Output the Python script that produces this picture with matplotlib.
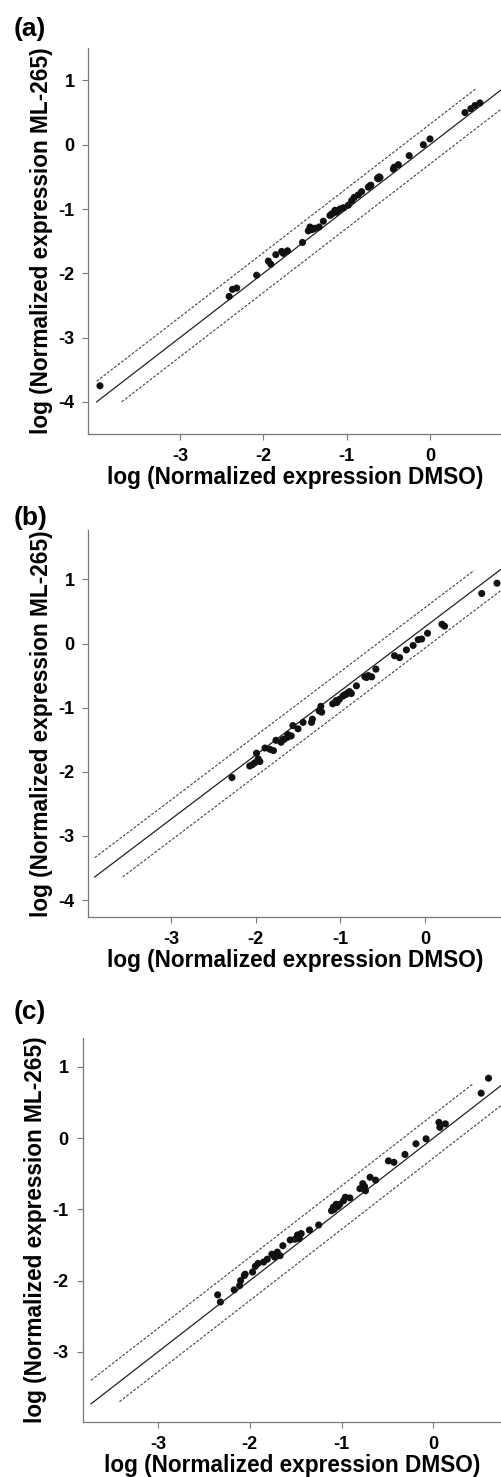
import numpy as np
import matplotlib.pyplot as plt

plt.rcParams['font.family'] = ['Liberation Sans', 'DejaVu Sans']
plt.rcParams['font.weight'] = 'bold'

# ---------------------------------------------------------
# data: log normalized expression, DMSO (x) vs ML-265 (y)
# ---------------------------------------------------------
a_x = [-3.96, -2.41, -2.37, -2.32, -2.08, -1.94, -1.91, -1.85, -1.78, -1.76,
       -1.71, -1.53, -1.46, -1.44, -1.42, -1.40, -1.38, -1.33, -1.28, -1.20,
       -1.18, -1.16, -1.14, -1.12, -1.10, -1.08, -1.04, -0.98, -0.94, -0.91,
       -0.86, -0.82, -0.74, -0.72, -0.71, -0.63, -0.62, -0.61, -0.60, -0.44,
       -0.43, -0.38, -0.25, -0.08, 0.00, 0.42, 0.49, 0.54, 0.60]
a_y = [-3.75, -2.36, -2.25, -2.23, -2.03, -1.81, -1.86, -1.71, -1.66, -1.69,
       -1.65, -1.52, -1.34, -1.28, -1.32, -1.31, -1.30, -1.28, -1.19, -1.10,
       -1.08, -1.06, -1.02, -1.05, -1.02, -1.00, -0.98, -0.94, -0.87, -0.82,
       -0.78, -0.73, -0.66, -0.64, -0.63, -0.52, -0.53, -0.50, -0.51, -0.38,
       -0.35, -0.31, -0.17, 0.00, 0.09, 0.50, 0.56, 0.61, 0.65]

b_x = [-2.28, -2.07, -2.04, -2.01, -1.99, -1.97, -1.95, -1.89, -1.83, -1.79,
       -1.76, -1.70, -1.68, -1.66, -1.62, -1.62, -1.58, -1.56, -1.50, -1.44,
       -1.34, -1.33, -1.25, -1.23, -1.22, -1.09, -1.05, -1.04, -1.01, -0.97,
       -0.95, -0.93, -0.91, -0.89, -0.87, -0.81, -0.71, -0.69, -0.67, -0.63,
       -0.58, -0.36, -0.30, -0.22, -0.14, -0.08, -0.04, 0.03, 0.20, 0.23,
       0.67, 0.85]
b_y = [-2.09, -1.91, -1.89, -1.86, -1.71, -1.80, -1.84, -1.63, -1.65, -1.67,
       -1.51, -1.54, -1.50, -1.49, -1.46, -1.42, -1.44, -1.28, -1.33, -1.23,
       -1.23, -1.18, -1.05, -0.98, -1.07, -0.94, -0.89, -0.92, -0.87, -0.82,
       -0.80, -0.79, -0.77, -0.75, -0.78, -0.66, -0.52, -0.53, -0.50, -0.52,
       -0.40, -0.19, -0.22, -0.10, -0.03, 0.06, 0.07, 0.16, 0.30, 0.27,
       0.78, 0.94]

c_x = [-2.35, -2.32, -2.17, -2.11, -2.10, -2.06, -2.05, -1.97, -1.94, -1.91,
       -1.85, -1.81, -1.76, -1.73, -1.70, -1.67, -1.64, -1.56, -1.51, -1.48,
       -1.46, -1.44, -1.35, -1.25, -1.11, -1.09, -1.08, -1.06, -1.04, -1.02,
       -0.98, -0.96, -0.91, -0.80, -0.77, -0.75, -0.74, -0.69, -0.63, -0.49,
       -0.43, -0.31, -0.19, -0.08, 0.06, 0.07, 0.13, 0.52, 0.60]
c_y = [-2.20, -2.30, -2.13, -2.07, -2.00, -1.93, -1.91, -1.88, -1.80, -1.76,
       -1.74, -1.70, -1.63, -1.67, -1.60, -1.65, -1.51, -1.43, -1.42, -1.36,
       -1.41, -1.34, -1.29, -1.22, -1.02, -0.97, -1.00, -0.93, -0.96, -0.93,
       -0.88, -0.83, -0.84, -0.71, -0.64, -0.68, -0.74, -0.55, -0.59, -0.32,
       -0.34, -0.23, -0.08, -0.01, 0.22, 0.15, 0.20, 0.63, 0.84]

# reference lines: offset of solid / upper / lower line and x range of each
a_lines = {'off': [0.0, 0.32, -0.30], 'x0': [-4.0, -4.0, -3.7], 'x1': [0.87, 0.56, 0.87]}
b_lines = {'off': [0.26, 0.56, -0.07], 'x0': [-3.9, -3.9, -3.57], 'x1': [0.92, 0.58, 0.92]}
c_lines = {'off': [0.0, 0.33, -0.28], 'x0': [-3.73, -3.73, -3.42], 'x1': [0.76, 0.43, 0.76]}

panels = [
    ('(a)', a_x, a_y, a_lines, (-4.1, 0.864), (-4.5, 1.5), [1, 0, -1, -2, -3, -4],
     [88.3, 48.3, 434.0], 17),
    ('(b)', b_x, b_y, b_lines, (-3.976, 0.909), (-4.26, 1.77), [1, 0, -1, -2, -3, -4],
     [88.3, 530.0, 916.7], 506),
    ('(c)', c_x, c_y, c_lines, (-3.82, 0.747), (-3.98, 1.4), [1, 0, -1, -2, -3],
     [82.7, 1038.3, 1421.7], 1000),
]

W, H = 502, 1477
fig = plt.figure(figsize=(W / 100, H / 100), dpi=100)

for label, xs, ys, lines, xlim, ylim, yticks, box, label_top in panels:
    left, top, bottom = box
    ax = fig.add_axes([left / W, 1 - bottom / H, 1 - left / W, (bottom - top) / H])

    for i, (off, x0, x1) in enumerate(zip(lines['off'], lines['x0'], lines['x1'])):
        lx = np.array([x0, x1])
        if i == 0:
            ax.plot(lx, lx + off, color='#222222', lw=0.9)
        else:
            ax.plot(lx, lx + off, color='#444444', lw=0.8, linestyle=(0, (2.5, 1.5)))

    ax.scatter(xs, ys, s=26, color='#111111', edgecolors='none', zorder=3)

    ax.set_xlim(*xlim)
    ax.set_ylim(*ylim)
    ax.set_xticks([-3, -2, -1, 0])
    ax.set_yticks(yticks)
    ax.set_xticklabels(['-3', '-2', '-1', '0'])
    ax.set_yticklabels([str(t) for t in yticks])
    for s in ['top', 'right']:
        ax.spines[s].set_visible(False)
    for s in ['left', 'bottom']:
        ax.spines[s].set_color('#777777')
        ax.spines[s].set_linewidth(0.9)
    ax.tick_params(direction='out', length=4, width=0.8, color='#777777',
                   labelsize=13, pad=6)
    for t in ax.get_xticklabels() + ax.get_yticklabels():
        t.set_fontweight('bold')

    ax.set_xlabel('log (Normalized expression DMSO)', fontsize=16.3, fontweight='bold',
                  labelpad=1)
    ax.set_ylabel('log (Normalized expression ML-265)', fontsize=16.3, fontweight='bold',
                  labelpad=4)
    fig.text(14 / W, 1 - label_top / H, label, fontsize=19, fontweight='bold',
             ha='left', va='top')

fig.savefig('out.png', dpi=100)
